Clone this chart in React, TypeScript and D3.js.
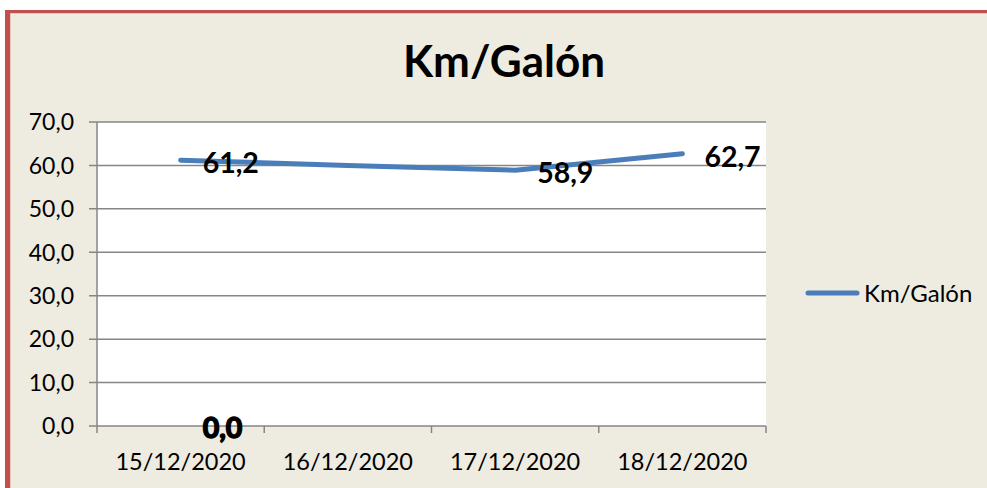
import React from "react";
import * as d3 from "d3";

const categories = ["15/12/2020", "16/12/2020", "17/12/2020", "18/12/2020"];
const seriesName = "Km/Galón";
const values = [61.2, 60.0, 58.9, 62.7];
const valueLabels: (string | null)[] = ["61,2", null, "58,9", "62,7"];
const hiddenValues: (number | null)[] = [0, null, null, null];
const hiddenLabels: (string | null)[] = ["0,0", null, null, null];
const yTicks = [0, 10, 20, 30, 40, 50, 60, 70];
const title = "Km/Galón";

const W = 987;
const H = 488;
const FONT = "Lato, 'Noto Sans', 'DejaVu Sans', sans-serif";

export default function App() {
  const left = 97, right = 766, top = 122, bottom = 426;
  const x = d3.scaleBand<string>().domain(categories).range([left, right]);
  const y = d3.scaleLinear().domain([0, 70]).range([bottom, top]);
  const cx = (c: string) => (x(c) as number) + x.bandwidth() / 2;
  const line = d3
    .line<number>()
    .x((_, i) => cx(categories[i]))
    .y((d) => y(d));
  const fmt = (v: number) => v.toFixed(1).replace(".", ",");
  const boundaries = [...categories.map((c) => x(c) as number), right];

  return (
    <svg
      width={W}
      height={H}
      style={{ position: "absolute", left: 0, top: 0, display: "block" }}
      fontFamily={FONT}
    >
      <rect x={0} y={0} width={W} height={H} fill="#ffffff" />
      <rect x={5} y={10} width={W} height={H} fill="#EEEBE0" />
      <rect x={5} y={10} width={5} height={H} fill="#C0504D" />
      <rect x={5} y={10} width={W} height={3} fill="#C0504D" />
      <rect x={10} y={13} width={1} height={H} fill="#E9A9A6" opacity={0.6} />
      <rect x={10} y={13} width={W} height={1} fill="#E9A9A6" opacity={0.6} />

      <text x={504} y={77} textAnchor="middle" fontSize={44} fontWeight="bold" fill="#000">
        {title}
      </text>

      <rect x={left} y={top} width={right - left} height={bottom - top} fill="#ffffff" />
      {yTicks.map((t) => (
        <g key={t}>
          <line x1={left - 8} x2={right} y1={y(t)} y2={y(t)} stroke="#868686" strokeWidth={1.5} />
          <text x={74} y={y(t)} dy="0.36em" textAnchor="end" fontSize={23} fill="#000">
            {fmt(t)}
          </text>
        </g>
      ))}
      <line x1={left} x2={left} y1={top} y2={bottom} stroke="#868686" strokeWidth={1.5} />
      {boundaries.map((b, i) => (
        <line key={i} x1={b} x2={b} y1={bottom} y2={bottom + 7} stroke="#868686" strokeWidth={1.5} />
      ))}
      {categories.map((c) => (
        <text key={c} x={cx(c)} y={462} dy="0.36em" textAnchor="middle" fontSize={23.5} fill="#000">
          {c}
        </text>
      ))}

      <path
        d={line(values) || ""}
        fill="none"
        stroke="#4A7EBB"
        strokeWidth={5}
        strokeLinecap="round"
        strokeLinejoin="round"
      />

      {valueLabels.map((l, i) =>
        l ? (
          <text
            key={i}
            x={cx(categories[i]) + 22}
            y={y(values[i]) + 3}
            dy="0.36em"
            fontSize={28.5}
            fontWeight="bold"
            fill="#000"
          >
            {l}
          </text>
        ) : null
      )}
      {hiddenLabels.map((l, i) =>
        l && hiddenValues[i] !== null ? (
          <text
            key={"h" + i}
            x={cx(categories[i]) + 22}
            y={y(hiddenValues[i] as number) + 2}
            dy="0.36em"
            fontSize={28.5}
            fontWeight="bold"
            fill="#000"
            stroke="#000"
            strokeWidth={1.5}
          >
            {l}
          </text>
        ) : null
      )}

      <line x1={808} x2={857} y1={293} y2={293} stroke="#4A7EBB" strokeWidth={5} strokeLinecap="round" />
      <text x={864} y={293} dy="0.36em" fontSize={24} fill="#000">
        {seriesName}
      </text>
    </svg>
  );
}
